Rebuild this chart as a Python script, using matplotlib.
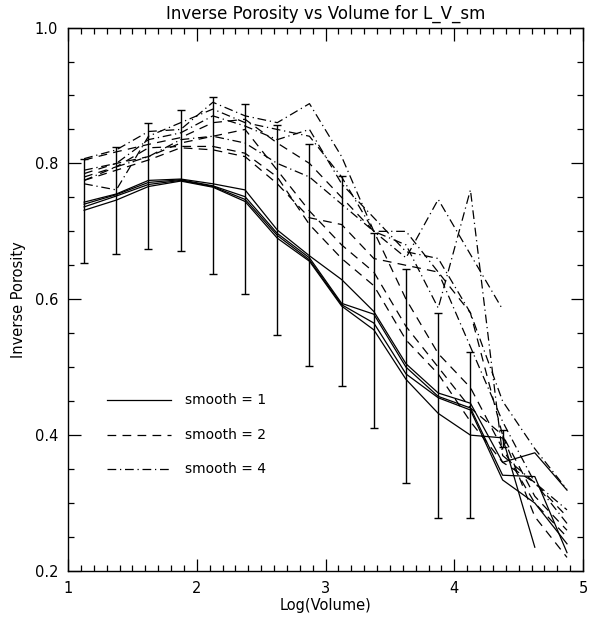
import numpy as np
import matplotlib
matplotlib.use("Agg")
import matplotlib.pyplot as plt
from matplotlib.ticker import MultipleLocator

# log volume bins (centres)
log_vol = [1.125, 1.375, 1.625, 1.875, 2.125, 2.375, 2.625, 2.875,
           3.125, 3.375, 3.625, 3.875, 4.125, 4.375, 4.625, 4.875]

# smooth = 1 runs
smooth1 = [
    [0.743, 0.755, 0.775, 0.777, 0.770, 0.761, 0.702, 0.664, 0.629, 0.582, 0.505, 0.462, 0.447, 0.360, 0.374, 0.319],
    [0.740, 0.754, 0.772, 0.776, 0.767, 0.751, 0.697, 0.661, 0.594, 0.578, 0.500, 0.457, 0.440, 0.341, 0.339, 0.227],
    [0.736, 0.752, 0.769, 0.775, 0.766, 0.747, 0.694, 0.658, 0.592, 0.565, 0.490, 0.455, 0.437, 0.334, 0.300, 0.240],
    [0.731, 0.746, 0.766, 0.774, 0.765, 0.744, 0.690, 0.656, 0.590, 0.555, 0.482, 0.432, 0.400, 0.396, 0.235, None],
]

# smooth = 2 runs
smooth2 = [
    [0.805, 0.817, 0.828, 0.838, 0.860, 0.865, 0.830, 0.800, 0.750, 0.700, 0.600, 0.520, 0.470, 0.380, 0.300, 0.250],
    [0.785, 0.800, 0.810, 0.830, 0.840, 0.850, 0.790, 0.730, 0.680, 0.640, 0.560, 0.500, 0.440, 0.400, 0.280, 0.220],
    [0.780, 0.795, 0.823, 0.825, 0.825, 0.815, 0.780, 0.710, 0.660, 0.620, 0.540, 0.490, 0.420, 0.360, 0.330, 0.280],
    [0.775, 0.790, 0.805, 0.823, 0.820, 0.810, 0.770, 0.720, 0.710, 0.660, 0.650, 0.640, 0.580, 0.400, 0.310, 0.260],
]

# smooth = 4 runs
smooth4 = [
    [0.807, 0.820, 0.847, 0.850, 0.890, 0.870, 0.860, 0.888, 0.810, 0.700, 0.661, 0.747, 0.666, 0.585, None, None],
    [0.770, 0.761, 0.840, 0.860, 0.880, 0.860, 0.850, 0.840, 0.780, 0.700, 0.680, 0.587, 0.761, 0.370, 0.330, 0.270],
    [0.790, 0.800, 0.835, 0.845, 0.870, 0.855, 0.835, 0.850, 0.770, 0.720, 0.670, 0.660, 0.580, 0.450, 0.380, 0.320],
    [0.775, 0.795, 0.810, 0.835, 0.840, 0.830, 0.800, 0.780, 0.740, 0.700, 0.700, 0.640, 0.530, 0.420, 0.330, 0.290],
]

# error bars (mean and sigma of smooth = 1)
err_x = log_vol[:14]
err_mean = [0.7305, 0.7455, 0.767, 0.7745, 0.7675, 0.7475, 0.7015, 0.6655,
            0.6275, 0.5545, 0.4875, 0.429, 0.4005, 0.3955]
err_sig = [0.0765, 0.0785, 0.093, 0.1035, 0.1305, 0.1395, 0.1545, 0.1635,
           0.1545, 0.1435, 0.1575, 0.151, 0.1225, 0.0125]

legend_labels = ["smooth = 1", "smooth = 2", "smooth = 4"]

fig = plt.figure(figsize=(5.95, 6.22), dpi=100)
ax = fig.add_axes([0.1143, 0.082, 0.8657, 0.8737])

styles = ["-", (0, (7, 5)), (0, (7, 3, 1, 3))]
groups = [smooth1, smooth2, smooth4]

for runs, ls in zip(groups, styles):
    for run in runs:
        y = np.array([np.nan if v is None else v for v in run], dtype=float)
        ax.plot(log_vol, y, color="black", lw=0.9, linestyle=ls)

ax.errorbar(err_x, err_mean, yerr=err_sig, fmt="none", ecolor="black",
            elinewidth=1.0, capsize=3, capthick=1.0)

# legend drawn IDL style inside the plot
leg_y = [0.452, 0.400, 0.350]
for yy, ls, lab in zip(leg_y, styles, legend_labels):
    ax.plot([1.3, 1.8], [yy, yy], color="black", lw=0.9, linestyle=ls)
    ax.text(1.91, yy, lab, fontsize=10, va="center", ha="left")

ax.set_xlim(1, 5)
ax.set_ylim(0.2, 1.0)
ax.xaxis.set_major_locator(MultipleLocator(1))
ax.xaxis.set_minor_locator(MultipleLocator(0.1))
ax.yaxis.set_major_locator(MultipleLocator(0.2))
ax.yaxis.set_minor_locator(MultipleLocator(0.05))
ax.xaxis.set_major_formatter(plt.FuncFormatter(lambda v, p: f"{v:.0f}"))
ax.yaxis.set_major_formatter(plt.FuncFormatter(lambda v, p: f"{v:.1f}"))
ax.tick_params(which="both", direction="in", top=True, right=True,
               labelsize=10.5, width=0.9)
ax.tick_params(which="major", length=9, pad=7)
ax.tick_params(which="minor", length=4.5)
for sp in ax.spines.values():
    sp.set_linewidth(1.0)

ax.set_xlabel("Log(Volume)", fontsize=10.5, labelpad=2)
ax.set_ylabel("Inverse Porosity", fontsize=10.5, labelpad=6)
ax.set_title("Inverse Porosity vs Volume for L_V_sm", fontsize=12, pad=6)

fig.savefig("out.png", dpi=100)
